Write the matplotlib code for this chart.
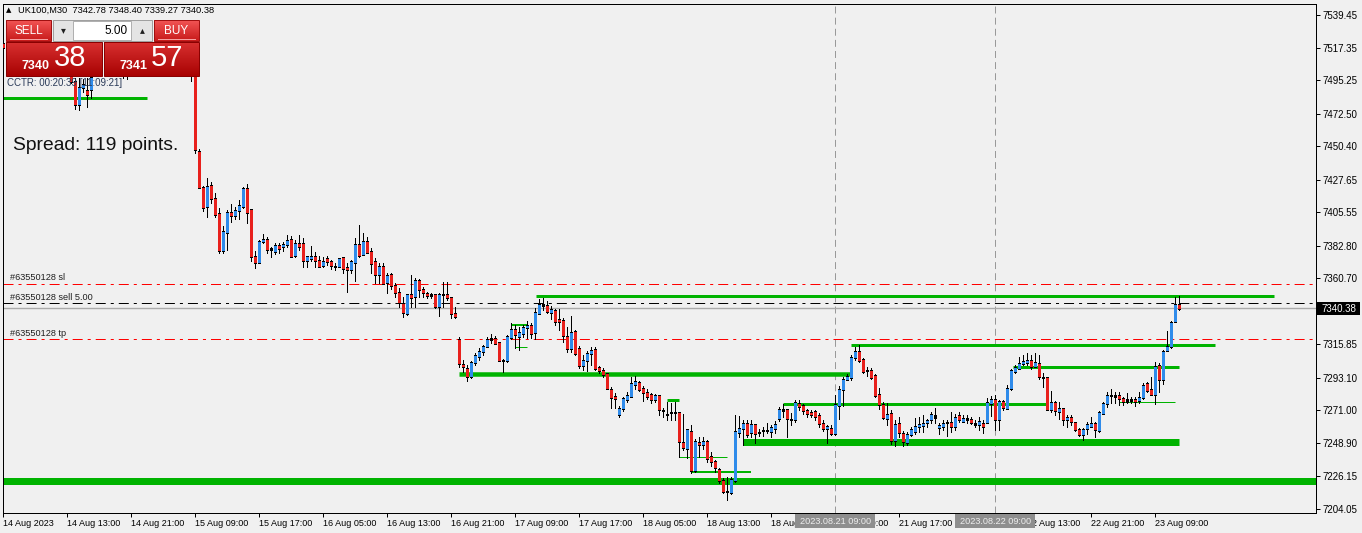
import matplotlib
matplotlib.use('Agg')
import matplotlib.pyplot as plt
import matplotlib.colors as mcolors
from matplotlib.patches import Rectangle
from matplotlib.collections import LineCollection
import numpy as np

plt.rcParams['font.family'] = ['Liberation Sans', 'DejaVu Sans']
plt.rcParams['lines.scale_dashes'] = False

# ---------------- data: UK100 M30 candles ----------------
opens = [
    7520.0, 7517.5, 7512.0, 7508.5, 7513.0, 7517.0, 7510.5, 7506.0, 7509.5, 7507.0,
    7511.0, 7514.5, 7508.0, 7503.5, 7506.0, 7502.5, 7504.0, 7501.0, 7494.6, 7479.0,
    7489.9, 7488.0, 7489.2, 7499.5, 7505.0, 7510.0, 7513.5, 7507.0, 7504.0, 7502.5,
    7503.5, 7501.0, 7503.0, 7508.0, 7512.0, 7516.0, 7513.0, 7508.0, 7511.0, 7509.0,
    7505.0, 7508.0, 7511.0, 7507.5, 7504.0, 7507.0, 7505.0, 7502.0, 7505.5, 7447.1,
    7422.2, 7409.3, 7423.4, 7415.0, 7404.8, 7379.4, 7391.9, 7405.5, 7403.2, 7406.6,
    7409.1, 7421.5, 7407.7, 7375.8, 7371.5, 7385.4, 7387.2, 7380.6, 7378.8, 7383.1,
    7382.1, 7383.5, 7386.7, 7376.0, 7384.0, 7384.4, 7372.6, 7373.9, 7375.2, 7373.1,
    7369.3, 7373.8, 7372.4, 7369.0, 7368.6, 7374.5, 7368.2, 7366.8, 7371.5, 7383.3,
    7377.0, 7386.0, 7378.8, 7371.8, 7363.6, 7368.6, 7357.7, 7363.0, 7356.0, 7351.2,
    7343.7, 7336.9, 7349.8, 7348.2, 7358.9, 7352.8, 7350.5, 7349.4, 7349.4, 7341.4,
    7349.8, 7349.8, 7347.8, 7336.9, 7319.3, 7302.5, 7299.6, 7293.9, 7303.7, 7307.5,
    7310.9, 7314.7, 7319.5, 7320.0, 7317.0, 7304.9, 7305.2, 7320.6, 7326.0, 7321.5,
    7323.3, 7327.1, 7328.6, 7324.0, 7337.0, 7343.2, 7342.5, 7337.6, 7338.5, 7332.4,
    7331.7, 7321.5, 7313.2, 7324.9, 7313.2, 7301.8, 7304.9, 7309.8, 7312.5, 7300.3,
    7298.4, 7296.2, 7285.5, 7280.3, 7267.9, 7272.4, 7278.3, 7280.3, 7288.3, 7290.1,
    7286.0, 7283.1, 7281.5, 7278.1, 7280.8, 7270.8, 7268.5, 7269.7, 7269.7, 7269.7,
    7249.4, 7245.3, 7257.0, 7229.9, 7249.4, 7248.0, 7250.2, 7239.6, 7236.2, 7231.0,
    7223.7, 7215.8, 7215.4, 7223.3, 7256.1, 7258.8, 7262.3, 7255.9, 7261.1, 7256.2,
    7257.3, 7257.3, 7256.5, 7258.8, 7265.8, 7270.6, 7271.7, 7265.0, 7264.9, 7275.8,
    7274.0, 7270.8, 7269.5, 7270.1, 7267.2, 7262.3, 7258.9, 7258.9, 7255.5, 7274.2,
    7284.9, 7292.3, 7293.5, 7307.1, 7310.9, 7305.7, 7298.1, 7297.8, 7294.4, 7282.1,
    7274.7, 7265.7, 7269.0, 7250.4, 7262.3, 7255.5, 7249.4, 7254.8, 7257.0, 7260.0,
    7260.8, 7262.5, 7264.5, 7266.5, 7259.6, 7260.0, 7263.0, 7263.1, 7260.4, 7267.2,
    7263.8, 7264.5, 7264.9, 7262.3, 7261.6, 7262.3, 7262.8, 7276.0, 7278.6, 7264.5,
    7276.9, 7272.4, 7286.0, 7297.3, 7299.4, 7303.0, 7303.5, 7305.2, 7300.7, 7303.0,
    7293.6, 7293.4, 7271.7, 7276.5, 7270.1, 7272.4, 7264.5, 7266.0, 7262.6, 7258.2,
    7254.3, 7258.4, 7260.4, 7262.3, 7257.3, 7268.9, 7275.4, 7281.1, 7280.5, 7281.4,
    7279.2, 7277.3, 7277.4, 7278.3, 7277.5, 7279.6, 7289.0, 7285.5, 7282.1, 7301.8,
    7292.3, 7312.0, 7314.2, 7331.2, 7342.78]

highs = [
    7527.0, 7521.0, 7516.0, 7515.0, 7519.0, 7520.0, 7514.0, 7511.0, 7513.0, 7512.0,
    7516.0, 7518.0, 7510.0, 7508.0, 7509.0, 7506.0, 7507.0, 7503.5, 7496.7, 7496.7,
    7496.0, 7496.7, 7502.0, 7508.0, 7512.0, 7516.0, 7517.0, 7511.0, 7509.0, 7506.0,
    7507.0, 7505.0, 7510.0, 7514.0, 7518.0, 7521.0, 7517.0, 7513.0, 7515.0, 7512.0,
    7510.0, 7513.0, 7514.0, 7511.0, 7509.0, 7511.0, 7508.0, 7507.0, 7507.5, 7448.3,
    7423.4, 7428.6, 7426.1, 7418.4, 7408.2, 7396.2, 7407.1, 7411.1, 7409.3, 7413.9,
    7422.9, 7424.7, 7407.7, 7379.2, 7386.7, 7390.8, 7389.0, 7382.2, 7384.9, 7384.4,
    7385.6, 7390.1, 7389.4, 7386.7, 7390.1, 7387.8, 7375.8, 7382.6, 7378.5, 7375.8,
    7375.4, 7375.7, 7373.1, 7370.9, 7374.7, 7375.4, 7370.9, 7373.1, 7388.3, 7396.9,
    7391.7, 7389.0, 7381.0, 7374.3, 7371.3, 7370.9, 7364.1, 7364.1, 7357.7, 7353.9,
    7347.8, 7349.8, 7362.9, 7360.7, 7360.0, 7354.6, 7351.6, 7350.5, 7350.1, 7350.5,
    7358.4, 7358.0, 7347.8, 7341.4, 7320.6, 7305.2, 7301.8, 7304.3, 7309.8, 7313.2,
    7315.4, 7320.6, 7322.9, 7321.3, 7317.6, 7305.7, 7322.2, 7330.1, 7329.0, 7327.9,
    7329.0, 7331.8, 7330.1, 7340.3, 7346.4, 7347.0, 7345.5, 7341.9, 7339.6, 7339.6,
    7333.5, 7327.4, 7335.3, 7325.6, 7314.7, 7308.6, 7311.5, 7313.8, 7313.8, 7301.1,
    7300.0, 7296.6, 7286.7, 7282.6, 7274.0, 7280.3, 7283.7, 7293.5, 7294.4, 7290.8,
    7287.4, 7285.5, 7282.6, 7281.9, 7281.5, 7272.4, 7277.0, 7276.3, 7277.0, 7270.1,
    7268.6, 7257.7, 7261.1, 7251.6, 7253.2, 7253.2, 7250.9, 7242.9, 7237.3, 7231.7,
    7224.9, 7226.0, 7226.0, 7267.9, 7267.2, 7264.5, 7264.5, 7264.5, 7261.6, 7258.3,
    7260.0, 7262.3, 7261.1, 7263.9, 7273.4, 7275.4, 7271.7, 7269.0, 7277.9, 7277.9,
    7275.4, 7271.7, 7271.3, 7271.3, 7269.0, 7264.5, 7261.1, 7261.1, 7281.4, 7287.6,
    7293.9, 7295.4, 7308.6, 7314.2, 7315.4, 7306.8, 7300.7, 7300.0, 7295.4, 7286.0,
    7277.0, 7275.8, 7271.3, 7264.5, 7266.4, 7257.3, 7256.1, 7260.0, 7266.0, 7266.7,
    7267.6, 7265.0, 7270.1, 7272.4, 7262.3, 7264.5, 7264.5, 7269.7, 7268.3, 7269.7,
    7267.9, 7267.9, 7266.7, 7264.5, 7266.7, 7264.5, 7279.2, 7281.0, 7281.4, 7278.1,
    7278.1, 7288.3, 7299.1, 7301.8, 7307.1, 7308.6, 7309.8, 7308.6, 7309.8, 7308.6,
    7296.6, 7294.0, 7284.4, 7277.6, 7277.0, 7272.9, 7267.9, 7267.9, 7263.3, 7258.9,
    7258.9, 7263.3, 7266.7, 7263.3, 7270.6, 7277.0, 7283.7, 7285.5, 7283.7, 7283.7,
    7280.3, 7283.1, 7280.3, 7280.3, 7283.7, 7289.3, 7290.3, 7294.0, 7304.1, 7303.0,
    7311.9, 7325.1, 7331.8, 7347.8, 7348.40]

lows = [
    7514.0, 7510.0, 7505.0, 7506.0, 7511.0, 7509.0, 7504.0, 7503.0, 7505.0, 7502.0,
    7508.0, 7507.0, 7501.0, 7500.0, 7501.5, 7499.5, 7500.0, 7493.0, 7475.6, 7475.0,
    7487.0, 7477.0, 7483.1, 7499.0, 7502.0, 7507.0, 7505.0, 7502.0, 7500.0, 7499.5,
    7496.5, 7496.0, 7501.0, 7505.0, 7509.0, 7511.0, 7506.0, 7504.0, 7507.0, 7503.0,
    7501.0, 7505.0, 7506.0, 7502.0, 7501.0, 7503.0, 7500.0, 7494.6, 7445.8, 7421.8,
    7406.6, 7402.1, 7412.0, 7402.5, 7377.6, 7378.1, 7379.9, 7399.1, 7400.8, 7401.2,
    7408.2, 7398.4, 7372.6, 7367.5, 7371.3, 7384.9, 7377.6, 7375.0, 7377.0, 7378.1,
    7379.4, 7382.2, 7375.0, 7375.0, 7379.9, 7368.6, 7368.6, 7372.6, 7368.6, 7368.2,
    7368.6, 7369.7, 7366.8, 7366.4, 7368.2, 7364.1, 7351.2, 7364.1, 7359.1, 7375.4,
    7376.5, 7377.6, 7364.1, 7357.7, 7357.7, 7356.8, 7350.5, 7353.6, 7348.2, 7341.4,
    7334.6, 7335.6, 7341.0, 7341.0, 7348.2, 7348.2, 7347.1, 7347.5, 7340.3, 7335.1,
    7341.3, 7345.8, 7333.5, 7333.5, 7300.3, 7297.3, 7291.2, 7293.0, 7301.8, 7305.2,
    7308.6, 7314.2, 7316.5, 7315.9, 7304.8, 7297.3, 7304.1, 7319.3, 7313.2, 7312.0,
    7320.6, 7320.1, 7320.1, 7319.3, 7336.5, 7339.2, 7336.9, 7333.1, 7329.0, 7325.6,
    7317.6, 7310.9, 7310.9, 7308.6, 7300.0, 7298.4, 7297.9, 7301.8, 7298.4, 7296.2,
    7293.5, 7285.3, 7272.4, 7272.4, 7266.8, 7270.6, 7276.4, 7279.9, 7285.5, 7284.4,
    7277.6, 7278.8, 7275.8, 7276.9, 7267.9, 7266.8, 7264.5, 7264.5, 7264.5, 7239.5,
    7244.1, 7239.0, 7228.7, 7229.0, 7239.5, 7244.8, 7236.2, 7233.1, 7229.4, 7221.5,
    7214.7, 7210.2, 7214.2, 7222.6, 7253.2, 7247.5, 7253.2, 7253.2, 7249.1, 7253.9,
    7253.6, 7255.5, 7252.7, 7255.5, 7263.9, 7266.2, 7253.2, 7261.1, 7263.3, 7271.3,
    7268.5, 7266.7, 7266.7, 7264.5, 7259.5, 7257.3, 7249.1, 7254.4, 7254.4, 7264.9,
    7274.0, 7291.6, 7291.6, 7305.2, 7304.1, 7296.6, 7294.3, 7292.6, 7280.3, 7271.7,
    7265.3, 7261.1, 7248.3, 7246.5, 7252.7, 7246.5, 7247.5, 7253.6, 7254.9, 7256.2,
    7256.2, 7260.0, 7262.3, 7262.3, 7255.0, 7257.7, 7253.6, 7256.6, 7257.7, 7263.3,
    7262.8, 7262.3, 7261.6, 7259.7, 7257.7, 7255.5, 7262.3, 7267.2, 7257.7, 7257.7,
    7271.3, 7271.7, 7284.9, 7296.6, 7298.9, 7301.8, 7301.8, 7299.1, 7300.3, 7292.5,
    7286.7, 7271.1, 7270.1, 7268.0, 7265.0, 7261.1, 7259.5, 7261.1, 7257.3, 7253.9,
    7251.0, 7254.9, 7260.4, 7252.7, 7256.6, 7268.5, 7273.1, 7276.1, 7276.1, 7274.7,
    7274.7, 7276.0, 7275.8, 7274.0, 7276.0, 7278.8, 7283.7, 7281.4, 7275.4, 7283.7,
    7289.0, 7311.5, 7313.6, 7330.8, 7339.27]

closes = [
    7517.5, 7512.0, 7508.5, 7513.0, 7517.0, 7510.5, 7506.0, 7509.5, 7507.0, 7511.0,
    7514.5, 7508.0, 7503.5, 7506.0, 7502.5, 7504.0, 7501.0, 7494.5, 7479.0, 7489.9,
    7492.0, 7485.5, 7496.7, 7505.0, 7510.0, 7513.5, 7507.0, 7504.0, 7502.5, 7503.5,
    7501.0, 7503.0, 7508.0, 7512.0, 7516.0, 7513.0, 7508.0, 7511.0, 7509.0, 7505.0,
    7508.0, 7511.0, 7507.5, 7504.0, 7507.0, 7505.0, 7502.0, 7505.5, 7447.8, 7422.0,
    7408.6, 7422.7, 7415.0, 7403.7, 7379.4, 7392.8, 7405.5, 7403.2, 7406.8, 7410.3,
    7421.5, 7405.2, 7375.4, 7371.5, 7385.4, 7387.2, 7380.4, 7380.4, 7383.1, 7381.1,
    7383.3, 7386.6, 7375.4, 7384.4, 7382.2, 7372.6, 7375.4, 7375.2, 7372.6, 7368.6,
    7372.4, 7372.0, 7369.5, 7369.0, 7373.8, 7367.5, 7366.8, 7372.2, 7383.8, 7376.3,
    7386.0, 7378.3, 7370.9, 7363.6, 7369.0, 7357.3, 7362.3, 7356.0, 7351.2, 7344.1,
    7337.4, 7349.8, 7347.5, 7358.9, 7353.2, 7351.0, 7348.9, 7349.0, 7341.4, 7349.8,
    7349.6, 7347.8, 7336.5, 7334.6, 7303.0, 7300.7, 7293.9, 7303.7, 7308.0, 7311.3,
    7314.7, 7319.3, 7319.1, 7316.6, 7305.2, 7304.7, 7321.5, 7326.0, 7322.2, 7323.8,
    7327.1, 7328.6, 7323.5, 7337.6, 7343.2, 7342.1, 7338.0, 7339.2, 7331.3, 7331.3,
    7321.7, 7313.2, 7324.0, 7309.3, 7301.4, 7305.2, 7309.8, 7312.0, 7299.6, 7298.4,
    7295.5, 7286.0, 7279.9, 7279.2, 7272.4, 7278.8, 7281.0, 7289.4, 7290.3, 7284.9,
    7283.1, 7280.3, 7278.1, 7280.8, 7271.3, 7270.6, 7268.3, 7269.5, 7269.5, 7249.8,
    7245.7, 7257.7, 7229.9, 7249.8, 7248.0, 7250.2, 7238.5, 7236.2, 7232.4, 7223.7,
    7215.8, 7215.6, 7224.4, 7256.6, 7258.8, 7262.3, 7254.9, 7261.6, 7255.5, 7256.0,
    7257.1, 7257.1, 7259.5, 7261.6, 7271.3, 7271.7, 7265.6, 7264.8, 7276.5, 7273.5,
    7270.6, 7269.0, 7267.9, 7266.8, 7261.8, 7258.4, 7260.4, 7255.5, 7274.7, 7285.5,
    7292.3, 7294.0, 7307.1, 7310.9, 7304.8, 7297.3, 7297.9, 7293.5, 7281.4, 7274.7,
    7266.0, 7267.9, 7250.4, 7261.6, 7256.1, 7249.8, 7254.8, 7258.2, 7260.4, 7261.1,
    7262.1, 7264.4, 7267.9, 7267.2, 7260.7, 7262.3, 7262.8, 7260.4, 7266.3, 7265.0,
    7265.6, 7265.6, 7262.7, 7261.1, 7263.4, 7260.4, 7276.5, 7278.1, 7265.0, 7276.9,
    7272.8, 7286.0, 7297.8, 7300.0, 7303.0, 7304.1, 7305.2, 7300.7, 7303.7, 7293.9,
    7293.4, 7271.7, 7276.5, 7270.6, 7272.0, 7265.0, 7266.0, 7263.3, 7258.2, 7254.3,
    7258.2, 7261.1, 7262.3, 7257.7, 7269.7, 7275.4, 7281.4, 7280.9, 7281.4, 7279.2,
    7276.9, 7278.1, 7278.1, 7276.9, 7279.6, 7287.6, 7284.4, 7282.1, 7301.1, 7292.1,
    7310.9, 7314.2, 7330.8, 7342.6, 7340.38]

date_tick_bars = [0, 16, 32, 48, 64, 80, 96, 112, 128, 144, 160, 176, 192, 208,
                  224, 240, 256, 272, 288]
date_tick_labels = ['14 Aug 2023', '14 Aug 13:00', '14 Aug 21:00', '15 Aug 09:00',
                    '15 Aug 17:00', '16 Aug 05:00', '16 Aug 13:00', '16 Aug 21:00',
                    '17 Aug 09:00', '17 Aug 17:00', '18 Aug 05:00', '18 Aug 13:00',
                    '18 Aug 21:00', '21 Aug 09:00', '21 Aug 17:00', '22 Aug 05:00',
                    '22 Aug 13:00', '22 Aug 21:00', '23 Aug 09:00']
price_ticks = [7539.45, 7517.35, 7495.25, 7472.50, 7450.40, 7427.65, 7405.55,
               7382.80, 7360.70, 7338.60, 7315.85, 7293.10, 7271.00, 7248.90,
               7226.15, 7204.05]

# order lines
sl_price = 7356.6
sell_price = 7343.7
tp_price = 7319.3
bid_price = 7340.38
order_labels = ['#63550128 sl', '#63550128 sell 5.00', '#63550128 tp']

# green support / resistance objects
level_price = [7483.1, 7348.6, 7315.2, 7300.3, 7295.4, 7275.2, 7276.5, 7249.6,
               7223.2, 7229.4, 7239.2, 7277.9, 7329.0, 7313.8]
level_from = [-0.1, 133.2, 211.9, 252.4, 113.9, 194.9, 278.9, 184.9,
              -0.1, 171.9, 169.0, 166.0, 126.9, 128.0]
level_to = [35.9, 317.7, 302.9, 294.0, 211.9, 260.7, 292.9, 294.0,
            328.2, 186.9, 181.0, 169.0, 130.9, 131.0]
level_px = [3, 3, 3, 3, 4.5, 3, 1, 7, 7, 2, 1, 3, 2, 1]

separator_bars = [208, 248]
separator_labels = ['2023.08.21 09:00', '2023.08.22 09:00']

# ---------------- figure ----------------
W, H = 1362, 533
BG = '#F0F0F0'
PX = 0.72  # points per pixel at dpi 100
UP = '#2F8BEA'
DOWN = '#E8201C'
GREEN = '#00B300'
YLO, YHI = 7201.34, 7546.92

fig = plt.figure(figsize=(W / 100, H / 100), dpi=100, facecolor=BG)
ax = fig.add_axes([3 / W, 1 - 513 / H, (1316 - 3) / W, (513 - 4) / H])
ax.set_facecolor(BG)
ax.set_xlim(-0.075, 328.175)
ax.set_ylim(YLO, YHI)
ppx = (YHI - YLO) / 509.0  # price units per pixel

# levels
for p, a, b, w in zip(level_price, level_from, level_to, level_px):
    ax.hlines(p, a, b, colors=GREEN, linewidth=w * PX, zorder=2, capstyle='butt')

# order lines
ax.axhline(sl_price, color='#FF0000', lw=PX, dashes=(7.2, 3.6, 2.2, 3.6), zorder=2.5)
ax.axhline(tp_price, color='#FF0000', lw=PX, dashes=(7.2, 3.6, 2.2, 3.6), zorder=2.5)
ax.axhline(sell_price, color='#000000', lw=PX, dashes=(7.2, 3.6, 2.2, 3.6), zorder=2.5)
ax.axhline(bid_price, color='#AAAAAA', lw=1.4 * PX, zorder=2.4)

# separators
for b in separator_bars:
    ax.axvline(b, color='#999999', lw=PX, dashes=(5, 3), zorder=1.5)

# candles: wick, black body frame, coloured body core
idx = np.arange(len(opens))
wicks = [[(i, l), (i, h)] for i, l, h in zip(idx, lows, highs)]
frames, ups, downs = [], [], []
for i, o, c in zip(idx, opens, closes):
    lo, hi = min(o, c), max(o, c)
    frames.append([(i, lo - 0.5 * ppx), (i, hi + 0.5 * ppx)])
    if hi - lo > 1.2 * ppx:
        seg = [(i, lo + 0.5 * ppx), (i, hi - 0.5 * ppx)]
        (ups if c > o else downs).append(seg)
ax.add_collection(LineCollection(wicks, colors='black', linewidths=PX, zorder=3,
                                 antialiased=False, capstyle='butt'))
ax.add_collection(LineCollection(frames, colors='black', linewidths=3 * PX, zorder=4,
                                 antialiased=False, capstyle='butt'))
ax.add_collection(LineCollection(ups, colors=UP, linewidths=1.3 * PX, zorder=5,
                                 antialiased=False, capstyle='butt'))
ax.add_collection(LineCollection(downs, colors=DOWN, linewidths=1.3 * PX, zorder=5,
                                 antialiased=False, capstyle='butt'))

# axes styling
for s in ax.spines.values():
    s.set_color('black')
    s.set_linewidth(PX)
ax.set_xticks(date_tick_bars)
ax.set_xticklabels(date_tick_labels)
for lbl in ax.get_xticklabels():
    lbl.set_horizontalalignment('left')
ax.set_yticks(price_ticks)
ax.set_yticklabels(['%.2f' % v for v in price_ticks])
ax.yaxis.tick_right()
ax.tick_params(axis='y', length=3, width=PX, pad=2, labelsize=7, colors='black')
ax.tick_params(axis='x', length=3, width=PX, pad=1.5, labelsize=6.5, colors='black')

# ---------------- overlay (pixel coordinates) ----------------
ax2 = fig.add_axes([0, 0, 1, 1])
ax2.patch.set_alpha(0)
ax2.axis('off')


def grad_rect(x0, y0, x1, y1, ctop, cbot, edge, z=10):
    t = np.linspace(0, 1, 64)[:, None, None]
    a = np.array(mcolors.to_rgb(ctop))
    b = np.array(mcolors.to_rgb(cbot))
    img = a * (1 - t) + b * t
    ax2.imshow(img, extent=(x0, x1, y1, y0), aspect='auto', origin='upper',
               zorder=z, interpolation='bilinear')
    ax2.add_patch(Rectangle((x0, y0), x1 - x0, y1 - y0, fill=False, ec=edge,
                            lw=PX, zorder=z + 0.1))


# backing under the trade panel
ax2.add_patch(Rectangle((5, 19), 196, 58, facecolor=BG, edgecolor='none', zorder=9))
# small SELL / BUY buttons
grad_rect(6, 20, 51, 41, '#F25555', '#C81A1A', '#A01010')
grad_rect(154, 20, 199, 41, '#F25555', '#C81A1A', '#A01010')
ax2.plot([10, 47], [38.5, 38.5], color='#F6A0A0', lw=PX, zorder=11)
ax2.plot([158, 195], [38.5, 38.5], color='#F6A0A0', lw=PX, zorder=11)
ax2.text(28.5, 30.5, 'SELL', color='white', fontsize=8.5, ha='center', va='center', zorder=12)
ax2.text(176.5, 30.5, 'BUY', color='white', fontsize=8.5, ha='center', va='center', zorder=12)
# lot box
ax2.add_patch(Rectangle((53, 20), 99, 21, facecolor='#E4E4E4', edgecolor='#A0A0A0',
                        lw=PX, zorder=10))
ax2.add_patch(Rectangle((73, 21), 58, 19, facecolor='white', edgecolor='#B0B0B0',
                        lw=PX, zorder=10.5))
ax2.text(63, 30.5, '\u25BE', color='#202020', fontsize=7, ha='center', va='center',
         zorder=12, family='DejaVu Sans')
ax2.text(142, 30.5, '\u25B4', color='#202020', fontsize=7, ha='center', va='center',
         zorder=12, family='DejaVu Sans')
ax2.text(128, 30.5, '5.00', color='black', fontsize=8.5, ha='right', va='center', zorder=12)
# big price boxes
grad_rect(6, 42, 102, 76, '#D83030', '#A80202', '#8A0000')
grad_rect(104, 42, 199, 76, '#D83030', '#A80202', '#8A0000')
ax2.text(21, 66, '7340', color='white', fontsize=9, fontweight='bold', ha='left',
         va='center', zorder=12)
ax2.text(54, 58, '38', color='white', fontsize=21, ha='left', va='center', zorder=12)
ax2.text(119, 66, '7341', color='white', fontsize=9, fontweight='bold', ha='left',
         va='center', zorder=12)
ax2.text(151, 58, '57', color='white', fontsize=21, ha='left', va='center', zorder=12)

# header
ax2.text(6, 10, '\u25B2', fontsize=5, color='black', ha='left', va='center',
         family='DejaVu Sans', zorder=12)
ax2.text(18, 10, 'UK100,M30  7342.78 7348.40 7339.27 7340.38', fontsize=6.7,
         color='black', ha='left', va='center', zorder=12)
ax2.text(7, 83, 'CCTR: 00:20:39 [11:09:21]', fontsize=7, color='#2A3A58',
         ha='left', va='center', zorder=12)
ax2.text(13, 145, 'Spread: 119 points.', fontsize=13.9, color='#111111',
         ha='left', va='center', zorder=12)

# order labels
ax2.text(10, 278, order_labels[0], fontsize=6.6, color='#202020', ha='left', va='center', zorder=12)
ax2.text(10, 297.5, order_labels[1], fontsize=6.6, color='#202020', ha='left', va='center', zorder=12)
ax2.text(10, 333, order_labels[2], fontsize=6.6, color='#202020', ha='left', va='center', zorder=12)

# current price box on the price scale
ax2.add_patch(Rectangle((1317, 302), 43, 13, facecolor='black', edgecolor='none', zorder=12))
ax2.text(1321, 308.5, '%.2f' % bid_price, fontsize=7, color='white', ha='left',
         va='center', zorder=13)

# separator labels at the time scale
for b, s in zip(separator_bars, separator_labels):
    xc = 3.3 + 4 * b
    ax2.add_patch(Rectangle((xc - 40, 514), 80, 14, facecolor='#8E8E8E', edgecolor='none',
                            zorder=12))
    ax2.text(xc, 521, s, fontsize=6.6, color='#EDEDED', ha='center', va='center', zorder=13)

ax2.set_xlim(0, W)
ax2.set_ylim(H, 0)

fig.savefig('out.png', dpi=100, facecolor=BG)
